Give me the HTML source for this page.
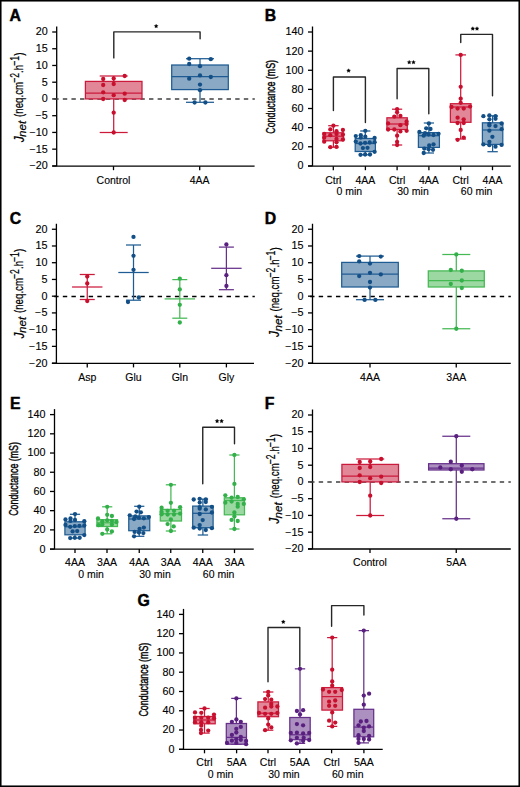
<!DOCTYPE html>
<html><head><meta charset="utf-8"><title>Figure</title>
<style>
html,body{margin:0;padding:0;background:#fff;}
svg{display:block;font-family:"Liberation Sans",sans-serif;}
</style></head><body>
<svg width="520" height="787" viewBox="0 0 520 787">
<rect x="0" y="0" width="520" height="787" fill="#fff"/>
<rect x="0.75" y="0.75" width="518.5" height="785.5" fill="none" stroke="#000" stroke-width="1.6"/>
<text x="9.5" y="20.5" font-size="15.8" font-weight="bold" stroke="#000" stroke-width="0.45">A</text>
<g transform="translate(23.1,142.5) rotate(-90)" stroke="#000" stroke-width="0.22"><g transform="translate(0.2,0.4) scale(0.85,1)"><text x="0" y="0" font-size="14" font-style="italic">J</text></g><text x="5.5" y="3.0" font-size="11.7" font-style="italic">net</text><g transform="translate(25.6,0) scale(0.77,1)"><text x="0" y="0" font-size="12.6">(neq.cm</text></g><g transform="translate(59.7,-3.8) scale(0.66,1)"><text x="0" y="0" font-size="13">−2</text></g><g transform="translate(69.6,0) scale(0.77,1)"><text x="0" y="0" font-size="12.6">.h</text></g><g transform="translate(76.7,-3.8) scale(0.66,1)"><text x="0" y="0" font-size="13">−1</text></g><g transform="translate(86.65,0) scale(0.77,1)"><text x="0" y="0" font-size="12.6">)</text></g></g>
<line x1="56.7" y1="26.5" x2="56.7" y2="165.9" stroke="#000" stroke-width="1.3"/>
<line x1="52.2" y1="32" x2="56.7" y2="32" stroke="#000" stroke-width="1.3"/>
<g transform="translate(47.7,35.4) scale(1.08,1)"><text x="0" y="0" text-anchor="end" font-size="10" stroke="#000" stroke-width="0.12">20</text></g>
<line x1="52.2" y1="48.74" x2="56.7" y2="48.74" stroke="#000" stroke-width="1.3"/>
<g transform="translate(47.7,52.14) scale(1.08,1)"><text x="0" y="0" text-anchor="end" font-size="10" stroke="#000" stroke-width="0.12">15</text></g>
<line x1="52.2" y1="65.47" x2="56.7" y2="65.47" stroke="#000" stroke-width="1.3"/>
<g transform="translate(47.7,68.88) scale(1.08,1)"><text x="0" y="0" text-anchor="end" font-size="10" stroke="#000" stroke-width="0.12">10</text></g>
<line x1="52.2" y1="82.21" x2="56.7" y2="82.21" stroke="#000" stroke-width="1.3"/>
<g transform="translate(47.7,85.61) scale(1.08,1)"><text x="0" y="0" text-anchor="end" font-size="10" stroke="#000" stroke-width="0.12">5</text></g>
<line x1="52.2" y1="98.95" x2="56.7" y2="98.95" stroke="#000" stroke-width="1.3"/>
<g transform="translate(47.7,102.35) scale(1.08,1)"><text x="0" y="0" text-anchor="end" font-size="10" stroke="#000" stroke-width="0.12">0</text></g>
<line x1="52.2" y1="115.69" x2="56.7" y2="115.69" stroke="#000" stroke-width="1.3"/>
<g transform="translate(47.7,119.09) scale(1.08,1)"><text x="0" y="0" text-anchor="end" font-size="10" stroke="#000" stroke-width="0.12">−5</text></g>
<line x1="52.2" y1="132.43" x2="56.7" y2="132.43" stroke="#000" stroke-width="1.3"/>
<g transform="translate(47.7,135.83) scale(1.08,1)"><text x="0" y="0" text-anchor="end" font-size="10" stroke="#000" stroke-width="0.12">−10</text></g>
<line x1="52.2" y1="149.16" x2="56.7" y2="149.16" stroke="#000" stroke-width="1.3"/>
<g transform="translate(47.7,152.56) scale(1.08,1)"><text x="0" y="0" text-anchor="end" font-size="10" stroke="#000" stroke-width="0.12">−15</text></g>
<line x1="52.2" y1="165.9" x2="56.7" y2="165.9" stroke="#000" stroke-width="1.3"/>
<g transform="translate(47.7,169.3) scale(1.08,1)"><text x="0" y="0" text-anchor="end" font-size="10" stroke="#000" stroke-width="0.12">−20</text></g>
<line x1="54.2" y1="99" x2="254.8" y2="99" stroke="#404040" stroke-width="1.7" stroke-dasharray="4.4 4.22"/>
<line x1="113.7" y1="76" x2="113.7" y2="81.4" stroke="#cc1a3c" stroke-width="1.25"/>
<line x1="113.7" y1="98.9" x2="113.7" y2="132.5" stroke="#cc1a3c" stroke-width="1.25"/>
<line x1="99.7" y1="76" x2="127.7" y2="76" stroke="#cc1a3c" stroke-width="1.25"/>
<line x1="99.7" y1="132.5" x2="127.7" y2="132.5" stroke="#cc1a3c" stroke-width="1.25"/>
<rect x="85.4" y="81.4" width="56.6" height="17.5" fill="#e18797" stroke="#cc1a3c" stroke-width="1.25"/>
<line x1="85.4" y1="93.1" x2="142" y2="93.1" stroke="#cc1a3c" stroke-width="1.25"/>
<circle cx="124.7" cy="76" r="2.15" fill="#c8102e"/>
<circle cx="103.2" cy="79" r="2.15" fill="#c8102e"/>
<circle cx="113.7" cy="78.5" r="2.15" fill="#c8102e"/>
<circle cx="103.2" cy="85" r="2.15" fill="#c8102e"/>
<circle cx="113.7" cy="84" r="2.15" fill="#c8102e"/>
<circle cx="103.2" cy="92.3" r="2.15" fill="#c8102e"/>
<circle cx="113.7" cy="95.2" r="2.15" fill="#c8102e"/>
<circle cx="124.7" cy="93.7" r="2.15" fill="#c8102e"/>
<circle cx="103.2" cy="99" r="2.15" fill="#c8102e"/>
<circle cx="124.7" cy="100" r="2.15" fill="#c8102e"/>
<circle cx="113.7" cy="112.7" r="2.15" fill="#c8102e"/>
<circle cx="113.7" cy="132.5" r="2.15" fill="#c8102e"/>
<line x1="200" y1="58.7" x2="200" y2="65" stroke="#1f5c93" stroke-width="1.25"/>
<line x1="200" y1="89.6" x2="200" y2="102.3" stroke="#1f5c93" stroke-width="1.25"/>
<line x1="186" y1="58.7" x2="214" y2="58.7" stroke="#1f5c93" stroke-width="1.25"/>
<line x1="186" y1="102.3" x2="214" y2="102.3" stroke="#1f5c93" stroke-width="1.25"/>
<rect x="171.7" y="65" width="56.6" height="24.6" fill="#8aa9c5" stroke="#1f5c93" stroke-width="1.25"/>
<line x1="171.7" y1="76.7" x2="228.3" y2="76.7" stroke="#1f5c93" stroke-width="1.25"/>
<circle cx="189.2" cy="58.7" r="2.15" fill="#124f86"/>
<circle cx="210.8" cy="59.2" r="2.15" fill="#124f86"/>
<circle cx="189.2" cy="64" r="2.15" fill="#124f86"/>
<circle cx="200" cy="66.2" r="2.15" fill="#124f86"/>
<circle cx="200" cy="75.4" r="2.15" fill="#124f86"/>
<circle cx="189.2" cy="78.7" r="2.15" fill="#124f86"/>
<circle cx="210.8" cy="77" r="2.15" fill="#124f86"/>
<circle cx="200" cy="84.6" r="2.15" fill="#124f86"/>
<circle cx="200" cy="90.2" r="2.15" fill="#124f86"/>
<circle cx="194.6" cy="102.5" r="2.15" fill="#124f86"/>
<circle cx="205.4" cy="102.5" r="2.15" fill="#124f86"/>
<line x1="52.2" y1="166.2" x2="254.6" y2="166.2" stroke="#000" stroke-width="1.3"/>
<line x1="113.5" y1="166.2" x2="113.5" y2="170.2" stroke="#000" stroke-width="1.3"/>
<text x="113.5" y="183.5" text-anchor="middle" font-size="10.5" stroke="#000" stroke-width="0.12" >Control</text>
<line x1="199.7" y1="166.2" x2="199.7" y2="170.2" stroke="#000" stroke-width="1.3"/>
<text x="199.7" y="183.5" text-anchor="middle" font-size="10.5" stroke="#000" stroke-width="0.12" >4AA</text>
<polyline points="113.8,57.9 113.8,31.9 200.1,31.9 200.1,38.8" fill="none" stroke="#262626" stroke-width="1.4" stroke-linejoin="round" stroke-linecap="round"/>
<polygon points="156.15,24.2 156.77,25.35 158.05,25.58 157.15,26.52 157.33,27.82 156.15,27.25 154.97,27.82 155.15,26.52 154.25,25.58 155.53,25.35" fill="#000" stroke="#000" stroke-width="0.3"/>
<text x="264.8" y="20.5" font-size="15.8" font-weight="bold" stroke="#000" stroke-width="0.45">B</text>
<g transform="translate(274.6,96.85) rotate(-90) scale(0.72,1)"><text x="0" y="0" text-anchor="middle" font-size="12.3" stroke="#000" stroke-width="0.4">Conductance (mS)</text></g>
<line x1="312.5" y1="26.5" x2="312.5" y2="165.9" stroke="#000" stroke-width="1.3"/>
<line x1="308" y1="32" x2="312.5" y2="32" stroke="#000" stroke-width="1.3"/>
<g transform="translate(303.5,35.4) scale(1.08,1)"><text x="0" y="0" text-anchor="end" font-size="10" stroke="#000" stroke-width="0.12">140</text></g>
<line x1="308" y1="51.13" x2="312.5" y2="51.13" stroke="#000" stroke-width="1.3"/>
<g transform="translate(303.5,54.53) scale(1.08,1)"><text x="0" y="0" text-anchor="end" font-size="10" stroke="#000" stroke-width="0.12">120</text></g>
<line x1="308" y1="70.26" x2="312.5" y2="70.26" stroke="#000" stroke-width="1.3"/>
<g transform="translate(303.5,73.66) scale(1.08,1)"><text x="0" y="0" text-anchor="end" font-size="10" stroke="#000" stroke-width="0.12">100</text></g>
<line x1="308" y1="89.39" x2="312.5" y2="89.39" stroke="#000" stroke-width="1.3"/>
<g transform="translate(303.5,92.79) scale(1.08,1)"><text x="0" y="0" text-anchor="end" font-size="10" stroke="#000" stroke-width="0.12">80</text></g>
<line x1="308" y1="108.51" x2="312.5" y2="108.51" stroke="#000" stroke-width="1.3"/>
<g transform="translate(303.5,111.91) scale(1.08,1)"><text x="0" y="0" text-anchor="end" font-size="10" stroke="#000" stroke-width="0.12">60</text></g>
<line x1="308" y1="127.64" x2="312.5" y2="127.64" stroke="#000" stroke-width="1.3"/>
<g transform="translate(303.5,131.04) scale(1.08,1)"><text x="0" y="0" text-anchor="end" font-size="10" stroke="#000" stroke-width="0.12">40</text></g>
<line x1="308" y1="146.77" x2="312.5" y2="146.77" stroke="#000" stroke-width="1.3"/>
<g transform="translate(303.5,150.17) scale(1.08,1)"><text x="0" y="0" text-anchor="end" font-size="10" stroke="#000" stroke-width="0.12">20</text></g>
<line x1="308" y1="165.9" x2="312.5" y2="165.9" stroke="#000" stroke-width="1.3"/>
<g transform="translate(303.5,169.3) scale(1.08,1)"><text x="0" y="0" text-anchor="end" font-size="10" stroke="#000" stroke-width="0.12">0</text></g>
<line x1="333.4" y1="125.7" x2="333.4" y2="132.8" stroke="#cc1a3c" stroke-width="1.25"/>
<line x1="333.4" y1="140.8" x2="333.4" y2="147.2" stroke="#cc1a3c" stroke-width="1.25"/>
<line x1="328.2" y1="125.7" x2="338.6" y2="125.7" stroke="#cc1a3c" stroke-width="1.25"/>
<line x1="328.2" y1="147.2" x2="338.6" y2="147.2" stroke="#cc1a3c" stroke-width="1.25"/>
<rect x="323.2" y="132.8" width="20.4" height="8" fill="#e18797" stroke="#cc1a3c" stroke-width="1.25"/>
<line x1="323.2" y1="136.2" x2="343.6" y2="136.2" stroke="#cc1a3c" stroke-width="1.25"/>
<circle cx="333.4" cy="125.7" r="2.15" fill="#c8102e"/>
<circle cx="330.3" cy="129.4" r="2.15" fill="#c8102e"/>
<circle cx="336.5" cy="131.2" r="2.15" fill="#c8102e"/>
<circle cx="342.9" cy="130" r="2.15" fill="#c8102e"/>
<circle cx="324.2" cy="134" r="2.15" fill="#c8102e"/>
<circle cx="324.2" cy="137.7" r="2.15" fill="#c8102e"/>
<circle cx="324.2" cy="141.7" r="2.15" fill="#c8102e"/>
<circle cx="330.3" cy="135.2" r="2.15" fill="#c8102e"/>
<circle cx="336.5" cy="134" r="2.15" fill="#c8102e"/>
<circle cx="336.5" cy="138.9" r="2.15" fill="#c8102e"/>
<circle cx="336.5" cy="142.3" r="2.15" fill="#c8102e"/>
<circle cx="342.9" cy="134.6" r="2.15" fill="#c8102e"/>
<circle cx="342.9" cy="139.5" r="2.15" fill="#c8102e"/>
<circle cx="330.3" cy="147.2" r="2.15" fill="#c8102e"/>
<circle cx="336.5" cy="146.9" r="2.15" fill="#c8102e"/>
<line x1="365.3" y1="131" x2="365.3" y2="138.5" stroke="#1f5c93" stroke-width="1.25"/>
<line x1="365.3" y1="151.5" x2="365.3" y2="154.8" stroke="#1f5c93" stroke-width="1.25"/>
<line x1="360.2" y1="131" x2="370.4" y2="131" stroke="#1f5c93" stroke-width="1.25"/>
<line x1="360.2" y1="154.8" x2="370.4" y2="154.8" stroke="#1f5c93" stroke-width="1.25"/>
<rect x="355.2" y="138.5" width="20.2" height="13" fill="#8aa9c5" stroke="#1f5c93" stroke-width="1.25"/>
<line x1="355.2" y1="143.5" x2="375.4" y2="143.5" stroke="#1f5c93" stroke-width="1.25"/>
<circle cx="365.3" cy="130.8" r="2.15" fill="#124f86"/>
<circle cx="355.8" cy="136.1" r="2.15" fill="#124f86"/>
<circle cx="360.8" cy="135.2" r="2.15" fill="#124f86"/>
<circle cx="360.8" cy="137.6" r="2.15" fill="#124f86"/>
<circle cx="365.3" cy="136.7" r="2.15" fill="#124f86"/>
<circle cx="374.6" cy="137.9" r="2.15" fill="#124f86"/>
<circle cx="355.8" cy="141.6" r="2.15" fill="#124f86"/>
<circle cx="360.5" cy="143.5" r="2.15" fill="#124f86"/>
<circle cx="365.1" cy="142.8" r="2.15" fill="#124f86"/>
<circle cx="369.7" cy="142.5" r="2.15" fill="#124f86"/>
<circle cx="374.6" cy="142.2" r="2.15" fill="#124f86"/>
<circle cx="362.9" cy="148.1" r="2.15" fill="#124f86"/>
<circle cx="367.5" cy="147.8" r="2.15" fill="#124f86"/>
<circle cx="374.6" cy="151.8" r="2.15" fill="#124f86"/>
<circle cx="360.5" cy="154.8" r="2.15" fill="#124f86"/>
<circle cx="365.1" cy="154.5" r="2.15" fill="#124f86"/>
<circle cx="370" cy="154.5" r="2.15" fill="#124f86"/>
<line x1="397.1" y1="109.2" x2="397.1" y2="117.8" stroke="#cc1a3c" stroke-width="1.25"/>
<line x1="397.1" y1="129.5" x2="397.1" y2="145" stroke="#cc1a3c" stroke-width="1.25"/>
<line x1="392" y1="109.2" x2="402.2" y2="109.2" stroke="#cc1a3c" stroke-width="1.25"/>
<line x1="392" y1="145" x2="402.2" y2="145" stroke="#cc1a3c" stroke-width="1.25"/>
<rect x="386.9" y="117.8" width="20.4" height="11.7" fill="#e18797" stroke="#cc1a3c" stroke-width="1.25"/>
<line x1="386.9" y1="124" x2="407.3" y2="124" stroke="#cc1a3c" stroke-width="1.25"/>
<circle cx="397.1" cy="109.2" r="2.15" fill="#c8102e"/>
<circle cx="397.1" cy="112.3" r="2.15" fill="#c8102e"/>
<circle cx="394.3" cy="116.6" r="2.15" fill="#c8102e"/>
<circle cx="400.4" cy="116" r="2.15" fill="#c8102e"/>
<circle cx="388.1" cy="123.4" r="2.15" fill="#c8102e"/>
<circle cx="400.4" cy="125.2" r="2.15" fill="#c8102e"/>
<circle cx="406.6" cy="121.5" r="2.15" fill="#c8102e"/>
<circle cx="406.6" cy="124" r="2.15" fill="#c8102e"/>
<circle cx="388.1" cy="129.5" r="2.15" fill="#c8102e"/>
<circle cx="394.3" cy="129.5" r="2.15" fill="#c8102e"/>
<circle cx="400.4" cy="131.4" r="2.15" fill="#c8102e"/>
<circle cx="406.6" cy="130.8" r="2.15" fill="#c8102e"/>
<circle cx="397.1" cy="135.7" r="2.15" fill="#c8102e"/>
<circle cx="397.1" cy="141.8" r="2.15" fill="#c8102e"/>
<circle cx="397.1" cy="145" r="2.15" fill="#c8102e"/>
<line x1="428.9" y1="123" x2="428.9" y2="132.6" stroke="#1f5c93" stroke-width="1.25"/>
<line x1="428.9" y1="147.4" x2="428.9" y2="153" stroke="#1f5c93" stroke-width="1.25"/>
<line x1="423.8" y1="123" x2="434" y2="123" stroke="#1f5c93" stroke-width="1.25"/>
<line x1="423.8" y1="153" x2="434" y2="153" stroke="#1f5c93" stroke-width="1.25"/>
<rect x="418.4" y="132.6" width="21" height="14.8" fill="#8aa9c5" stroke="#1f5c93" stroke-width="1.25"/>
<line x1="418.4" y1="135.7" x2="439.4" y2="135.7" stroke="#1f5c93" stroke-width="1.25"/>
<circle cx="428.9" cy="123.4" r="2.15" fill="#124f86"/>
<circle cx="426.2" cy="128.3" r="2.15" fill="#124f86"/>
<circle cx="430.5" cy="129" r="2.15" fill="#124f86"/>
<circle cx="419.4" cy="132" r="2.15" fill="#124f86"/>
<circle cx="423.7" cy="135.7" r="2.15" fill="#124f86"/>
<circle cx="428.6" cy="134.5" r="2.15" fill="#124f86"/>
<circle cx="433.5" cy="135" r="2.15" fill="#124f86"/>
<circle cx="438.5" cy="133.8" r="2.15" fill="#124f86"/>
<circle cx="425" cy="133.2" r="2.15" fill="#124f86"/>
<circle cx="429.2" cy="145.5" r="2.15" fill="#124f86"/>
<circle cx="433.5" cy="144.3" r="2.15" fill="#124f86"/>
<circle cx="424.3" cy="148.6" r="2.15" fill="#124f86"/>
<circle cx="428.6" cy="149.2" r="2.15" fill="#124f86"/>
<circle cx="433" cy="149.8" r="2.15" fill="#124f86"/>
<circle cx="423.7" cy="153" r="2.15" fill="#124f86"/>
<line x1="460.7" y1="54.9" x2="460.7" y2="103.7" stroke="#cc1a3c" stroke-width="1.25"/>
<line x1="460.7" y1="122.3" x2="460.7" y2="139" stroke="#cc1a3c" stroke-width="1.25"/>
<line x1="455.4" y1="54.9" x2="466" y2="54.9" stroke="#cc1a3c" stroke-width="1.25"/>
<line x1="455.4" y1="139" x2="466" y2="139" stroke="#cc1a3c" stroke-width="1.25"/>
<rect x="450.4" y="103.7" width="20.6" height="18.6" fill="#e18797" stroke="#cc1a3c" stroke-width="1.25"/>
<line x1="450.4" y1="107" x2="471" y2="107" stroke="#cc1a3c" stroke-width="1.25"/>
<circle cx="460.7" cy="54.9" r="2.15" fill="#c8102e"/>
<circle cx="460.7" cy="86.8" r="2.15" fill="#c8102e"/>
<circle cx="460.7" cy="98.7" r="2.15" fill="#c8102e"/>
<circle cx="460.7" cy="102.8" r="2.15" fill="#c8102e"/>
<circle cx="451.5" cy="107" r="2.15" fill="#c8102e"/>
<circle cx="457.6" cy="108.6" r="2.15" fill="#c8102e"/>
<circle cx="463.7" cy="108.6" r="2.15" fill="#c8102e"/>
<circle cx="470.1" cy="106.6" r="2.15" fill="#c8102e"/>
<circle cx="457.6" cy="117.7" r="2.15" fill="#c8102e"/>
<circle cx="463.7" cy="119.3" r="2.15" fill="#c8102e"/>
<circle cx="457.6" cy="123" r="2.15" fill="#c8102e"/>
<circle cx="463.7" cy="123" r="2.15" fill="#c8102e"/>
<circle cx="460.7" cy="130" r="2.15" fill="#c8102e"/>
<circle cx="457.6" cy="139.8" r="2.15" fill="#c8102e"/>
<circle cx="463.7" cy="137.6" r="2.15" fill="#c8102e"/>
<line x1="492.6" y1="115.8" x2="492.6" y2="122.8" stroke="#1f5c93" stroke-width="1.25"/>
<line x1="492.6" y1="144.4" x2="492.6" y2="151.7" stroke="#1f5c93" stroke-width="1.25"/>
<line x1="487.4" y1="115.8" x2="497.8" y2="115.8" stroke="#1f5c93" stroke-width="1.25"/>
<line x1="487.4" y1="151.7" x2="497.8" y2="151.7" stroke="#1f5c93" stroke-width="1.25"/>
<rect x="482.4" y="122.8" width="20.4" height="21.6" fill="#8aa9c5" stroke="#1f5c93" stroke-width="1.25"/>
<line x1="482.4" y1="130" x2="502.8" y2="130" stroke="#1f5c93" stroke-width="1.25"/>
<circle cx="483.4" cy="116.2" r="2.15" fill="#124f86"/>
<circle cx="489.4" cy="115.5" r="2.15" fill="#124f86"/>
<circle cx="495.5" cy="116.2" r="2.15" fill="#124f86"/>
<circle cx="489.4" cy="119.3" r="2.15" fill="#124f86"/>
<circle cx="495.5" cy="118.8" r="2.15" fill="#124f86"/>
<circle cx="489.4" cy="123.8" r="2.15" fill="#124f86"/>
<circle cx="501.6" cy="123.5" r="2.15" fill="#124f86"/>
<circle cx="489.4" cy="125.4" r="2.15" fill="#124f86"/>
<circle cx="495.5" cy="126.1" r="2.15" fill="#124f86"/>
<circle cx="489.4" cy="130.7" r="2.15" fill="#124f86"/>
<circle cx="501.6" cy="129.2" r="2.15" fill="#124f86"/>
<circle cx="492.4" cy="136.8" r="2.15" fill="#124f86"/>
<circle cx="489.4" cy="141.8" r="2.15" fill="#124f86"/>
<circle cx="483.4" cy="144.4" r="2.15" fill="#124f86"/>
<circle cx="489.4" cy="145.2" r="2.15" fill="#124f86"/>
<circle cx="495.5" cy="146.7" r="2.15" fill="#124f86"/>
<circle cx="501.6" cy="144.9" r="2.15" fill="#124f86"/>
<line x1="308" y1="166.2" x2="510.75" y2="166.2" stroke="#000" stroke-width="1.3"/>
<line x1="333.3" y1="166.2" x2="333.3" y2="170.2" stroke="#000" stroke-width="1.3"/>
<text x="333.3" y="183.5" text-anchor="middle" font-size="10.5" stroke="#000" stroke-width="0.12" >Ctrl</text>
<line x1="365.4" y1="166.2" x2="365.4" y2="170.2" stroke="#000" stroke-width="1.3"/>
<text x="365.4" y="183.5" text-anchor="middle" font-size="10.5" stroke="#000" stroke-width="0.12" >4AA</text>
<line x1="397.1" y1="166.2" x2="397.1" y2="170.2" stroke="#000" stroke-width="1.3"/>
<text x="397.1" y="183.5" text-anchor="middle" font-size="10.5" stroke="#000" stroke-width="0.12" >Ctrl</text>
<line x1="428.9" y1="166.2" x2="428.9" y2="170.2" stroke="#000" stroke-width="1.3"/>
<text x="428.9" y="183.5" text-anchor="middle" font-size="10.5" stroke="#000" stroke-width="0.12" >4AA</text>
<line x1="460.7" y1="166.2" x2="460.7" y2="170.2" stroke="#000" stroke-width="1.3"/>
<text x="460.7" y="183.5" text-anchor="middle" font-size="10.5" stroke="#000" stroke-width="0.12" >Ctrl</text>
<line x1="492.5" y1="166.2" x2="492.5" y2="170.2" stroke="#000" stroke-width="1.3"/>
<text x="492.5" y="183.5" text-anchor="middle" font-size="10.5" stroke="#000" stroke-width="0.12" >4AA</text>
<text x="349.35" y="195.1" text-anchor="middle" font-size="10.5" stroke="#000" stroke-width="0.12" >0 min</text>
<text x="413" y="195.1" text-anchor="middle" font-size="10.5" stroke="#000" stroke-width="0.12" >30 min</text>
<text x="476.6" y="195.1" text-anchor="middle" font-size="10.5" stroke="#000" stroke-width="0.12" >60 min</text>
<polyline points="333.4,110.5 333.4,77 365.4,77 365.4,122.5" fill="none" stroke="#262626" stroke-width="1.4" stroke-linejoin="round" stroke-linecap="round"/>
<polygon points="348.6,68.7 349.22,69.85 350.5,70.08 349.6,71.02 349.78,72.32 348.6,71.75 347.42,72.32 347.6,71.02 346.7,70.08 347.98,69.85" fill="#000" stroke="#000" stroke-width="0.3"/>
<polyline points="397.1,98.75 397.1,68.5 428.8,68.5 428.8,113.75" fill="none" stroke="#262626" stroke-width="1.4" stroke-linejoin="round" stroke-linecap="round"/>
<polygon points="409.2,60.3 409.82,61.45 411.1,61.68 410.2,62.62 410.38,63.92 409.2,63.35 408.02,63.92 408.2,62.62 407.3,61.68 408.58,61.45" fill="#000" stroke="#000" stroke-width="0.3"/>
<polygon points="413.5,60.3 414.12,61.45 415.4,61.68 414.5,62.62 414.68,63.92 413.5,63.35 412.32,63.92 412.5,62.62 411.6,61.68 412.88,61.45" fill="#000" stroke="#000" stroke-width="0.3"/>
<polyline points="460.75,42.5 460.75,34.4 492.5,34.4 492.5,95.75" fill="none" stroke="#262626" stroke-width="1.4" stroke-linejoin="round" stroke-linecap="round"/>
<polygon points="472.8,26.65 473.42,27.8 474.7,28.03 473.8,28.97 473.98,30.27 472.8,29.7 471.62,30.27 471.8,28.97 470.9,28.03 472.18,27.8" fill="#000" stroke="#000" stroke-width="0.3"/>
<polygon points="477,26.65 477.62,27.8 478.9,28.03 478,28.97 478.18,30.27 477,29.7 475.82,30.27 476,28.97 475.1,28.03 476.38,27.8" fill="#000" stroke="#000" stroke-width="0.3"/>
<text x="9.8" y="223.8" font-size="15.8" font-weight="bold" stroke="#000" stroke-width="0.45">C</text>
<g transform="translate(23.1,338.6) rotate(-90)" stroke="#000" stroke-width="0.22"><g transform="translate(0.2,0.4) scale(0.85,1)"><text x="0" y="0" font-size="14" font-style="italic">J</text></g><text x="5.5" y="3.0" font-size="11.7" font-style="italic">net</text><g transform="translate(25.6,0) scale(0.77,1)"><text x="0" y="0" font-size="12.6">(neq.cm</text></g><g transform="translate(59.7,-3.8) scale(0.66,1)"><text x="0" y="0" font-size="13">−2</text></g><g transform="translate(69.6,0) scale(0.77,1)"><text x="0" y="0" font-size="12.6">.h</text></g><g transform="translate(76.7,-3.8) scale(0.66,1)"><text x="0" y="0" font-size="13">−1</text></g><g transform="translate(86.65,0) scale(0.77,1)"><text x="0" y="0" font-size="12.6">)</text></g></g>
<line x1="56.4" y1="223.75" x2="56.4" y2="363.1" stroke="#000" stroke-width="1.3"/>
<line x1="51.9" y1="229.25" x2="56.4" y2="229.25" stroke="#000" stroke-width="1.3"/>
<g transform="translate(47.4,232.65) scale(1.08,1)"><text x="0" y="0" text-anchor="end" font-size="10" stroke="#000" stroke-width="0.12">20</text></g>
<line x1="51.9" y1="245.98" x2="56.4" y2="245.98" stroke="#000" stroke-width="1.3"/>
<g transform="translate(47.4,249.38) scale(1.08,1)"><text x="0" y="0" text-anchor="end" font-size="10" stroke="#000" stroke-width="0.12">15</text></g>
<line x1="51.9" y1="262.71" x2="56.4" y2="262.71" stroke="#000" stroke-width="1.3"/>
<g transform="translate(47.4,266.11) scale(1.08,1)"><text x="0" y="0" text-anchor="end" font-size="10" stroke="#000" stroke-width="0.12">10</text></g>
<line x1="51.9" y1="279.44" x2="56.4" y2="279.44" stroke="#000" stroke-width="1.3"/>
<g transform="translate(47.4,282.84) scale(1.08,1)"><text x="0" y="0" text-anchor="end" font-size="10" stroke="#000" stroke-width="0.12">5</text></g>
<line x1="51.9" y1="296.18" x2="56.4" y2="296.18" stroke="#000" stroke-width="1.3"/>
<g transform="translate(47.4,299.57) scale(1.08,1)"><text x="0" y="0" text-anchor="end" font-size="10" stroke="#000" stroke-width="0.12">0</text></g>
<line x1="51.9" y1="312.91" x2="56.4" y2="312.91" stroke="#000" stroke-width="1.3"/>
<g transform="translate(47.4,316.31) scale(1.08,1)"><text x="0" y="0" text-anchor="end" font-size="10" stroke="#000" stroke-width="0.12">−5</text></g>
<line x1="51.9" y1="329.64" x2="56.4" y2="329.64" stroke="#000" stroke-width="1.3"/>
<g transform="translate(47.4,333.04) scale(1.08,1)"><text x="0" y="0" text-anchor="end" font-size="10" stroke="#000" stroke-width="0.12">−10</text></g>
<line x1="51.9" y1="346.37" x2="56.4" y2="346.37" stroke="#000" stroke-width="1.3"/>
<g transform="translate(47.4,349.77) scale(1.08,1)"><text x="0" y="0" text-anchor="end" font-size="10" stroke="#000" stroke-width="0.12">−15</text></g>
<line x1="51.9" y1="363.1" x2="56.4" y2="363.1" stroke="#000" stroke-width="1.3"/>
<g transform="translate(47.4,366.5) scale(1.08,1)"><text x="0" y="0" text-anchor="end" font-size="10" stroke="#000" stroke-width="0.12">−20</text></g>
<line x1="54.2" y1="296.5" x2="254.8" y2="296.5" stroke="#000" stroke-width="1.3" stroke-dasharray="4.4 4.22"/>
<line x1="87.25" y1="274.5" x2="87.25" y2="299.5" stroke="#cc1a3c" stroke-width="1.25"/>
<line x1="79.75" y1="274.5" x2="94.75" y2="274.5" stroke="#cc1a3c" stroke-width="1.25"/>
<line x1="79.75" y1="299.5" x2="94.75" y2="299.5" stroke="#cc1a3c" stroke-width="1.25"/>
<line x1="72.05" y1="287" x2="102.45" y2="287" stroke="#cc1a3c" stroke-width="1.25"/>
<circle cx="87.25" cy="276.5" r="2.15" fill="#c8102e"/>
<circle cx="87.25" cy="283.5" r="2.15" fill="#c8102e"/>
<circle cx="87.25" cy="301" r="2.15" fill="#c8102e"/>
<line x1="133.5" y1="245" x2="133.5" y2="300.2" stroke="#1f5c93" stroke-width="1.25"/>
<line x1="126" y1="245" x2="141" y2="245" stroke="#1f5c93" stroke-width="1.25"/>
<line x1="126" y1="300.2" x2="141" y2="300.2" stroke="#1f5c93" stroke-width="1.25"/>
<line x1="118.3" y1="272.5" x2="148.7" y2="272.5" stroke="#1f5c93" stroke-width="1.25"/>
<circle cx="133.5" cy="236.9" r="2.15" fill="#124f86"/>
<circle cx="133.5" cy="255.8" r="2.15" fill="#124f86"/>
<circle cx="133.5" cy="269.8" r="2.15" fill="#124f86"/>
<circle cx="128" cy="302" r="2.15" fill="#124f86"/>
<circle cx="138.8" cy="297.5" r="2.15" fill="#124f86"/>
<line x1="179.8" y1="279.6" x2="179.8" y2="318.2" stroke="#45b954" stroke-width="1.25"/>
<line x1="172.3" y1="279.6" x2="187.3" y2="279.6" stroke="#45b954" stroke-width="1.25"/>
<line x1="172.3" y1="318.2" x2="187.3" y2="318.2" stroke="#45b954" stroke-width="1.25"/>
<line x1="164.6" y1="298.9" x2="195" y2="298.9" stroke="#45b954" stroke-width="1.25"/>
<circle cx="179.8" cy="278.7" r="2.15" fill="#33b04a"/>
<circle cx="179.8" cy="289.4" r="2.15" fill="#33b04a"/>
<circle cx="179.8" cy="304.8" r="2.15" fill="#33b04a"/>
<circle cx="179.8" cy="322.5" r="2.15" fill="#33b04a"/>
<line x1="226.4" y1="247.1" x2="226.4" y2="289.7" stroke="#66308a" stroke-width="1.25"/>
<line x1="218.9" y1="247.1" x2="233.9" y2="247.1" stroke="#66308a" stroke-width="1.25"/>
<line x1="218.9" y1="289.7" x2="233.9" y2="289.7" stroke="#66308a" stroke-width="1.25"/>
<line x1="211.2" y1="268.3" x2="241.6" y2="268.3" stroke="#66308a" stroke-width="1.25"/>
<circle cx="226.4" cy="244.5" r="2.15" fill="#5a2080"/>
<circle cx="226.4" cy="275.2" r="2.15" fill="#5a2080"/>
<circle cx="226.4" cy="286" r="2.15" fill="#5a2080"/>
<line x1="51.9" y1="363.4" x2="254" y2="363.4" stroke="#000" stroke-width="1.3"/>
<line x1="87.25" y1="363.4" x2="87.25" y2="367.4" stroke="#000" stroke-width="1.3"/>
<text x="87.25" y="380.7" text-anchor="middle" font-size="10.5" stroke="#000" stroke-width="0.12" >Asp</text>
<line x1="133.5" y1="363.4" x2="133.5" y2="367.4" stroke="#000" stroke-width="1.3"/>
<text x="133.5" y="380.7" text-anchor="middle" font-size="10.5" stroke="#000" stroke-width="0.12" >Glu</text>
<line x1="179.8" y1="363.4" x2="179.8" y2="367.4" stroke="#000" stroke-width="1.3"/>
<text x="179.8" y="380.7" text-anchor="middle" font-size="10.5" stroke="#000" stroke-width="0.12" >Gln</text>
<line x1="226.4" y1="363.4" x2="226.4" y2="367.4" stroke="#000" stroke-width="1.3"/>
<text x="226.4" y="380.7" text-anchor="middle" font-size="10.5" stroke="#000" stroke-width="0.12" >Gly</text>
<text x="264.8" y="223.8" font-size="15.8" font-weight="bold" stroke="#000" stroke-width="0.45">D</text>
<g transform="translate(279,337.1) rotate(-90)" stroke="#000" stroke-width="0.22"><g transform="translate(0.2,0.4) scale(0.85,1)"><text x="0" y="0" font-size="14" font-style="italic">J</text></g><text x="5.5" y="3.0" font-size="11.7" font-style="italic">net</text><g transform="translate(25.6,0) scale(0.77,1)"><text x="0" y="0" font-size="12.6">(neq.cm</text></g><g transform="translate(59.7,-3.8) scale(0.66,1)"><text x="0" y="0" font-size="13">−2</text></g><g transform="translate(69.6,0) scale(0.77,1)"><text x="0" y="0" font-size="12.6">.h</text></g><g transform="translate(76.7,-3.8) scale(0.66,1)"><text x="0" y="0" font-size="13">−1</text></g><g transform="translate(86.65,0) scale(0.77,1)"><text x="0" y="0" font-size="12.6">)</text></g></g>
<line x1="312.5" y1="223.75" x2="312.5" y2="363.1" stroke="#000" stroke-width="1.3"/>
<line x1="308" y1="229.25" x2="312.5" y2="229.25" stroke="#000" stroke-width="1.3"/>
<g transform="translate(303.5,232.65) scale(1.08,1)"><text x="0" y="0" text-anchor="end" font-size="10" stroke="#000" stroke-width="0.12">20</text></g>
<line x1="308" y1="245.98" x2="312.5" y2="245.98" stroke="#000" stroke-width="1.3"/>
<g transform="translate(303.5,249.38) scale(1.08,1)"><text x="0" y="0" text-anchor="end" font-size="10" stroke="#000" stroke-width="0.12">15</text></g>
<line x1="308" y1="262.71" x2="312.5" y2="262.71" stroke="#000" stroke-width="1.3"/>
<g transform="translate(303.5,266.11) scale(1.08,1)"><text x="0" y="0" text-anchor="end" font-size="10" stroke="#000" stroke-width="0.12">10</text></g>
<line x1="308" y1="279.44" x2="312.5" y2="279.44" stroke="#000" stroke-width="1.3"/>
<g transform="translate(303.5,282.84) scale(1.08,1)"><text x="0" y="0" text-anchor="end" font-size="10" stroke="#000" stroke-width="0.12">5</text></g>
<line x1="308" y1="296.18" x2="312.5" y2="296.18" stroke="#000" stroke-width="1.3"/>
<g transform="translate(303.5,299.57) scale(1.08,1)"><text x="0" y="0" text-anchor="end" font-size="10" stroke="#000" stroke-width="0.12">0</text></g>
<line x1="308" y1="312.91" x2="312.5" y2="312.91" stroke="#000" stroke-width="1.3"/>
<g transform="translate(303.5,316.31) scale(1.08,1)"><text x="0" y="0" text-anchor="end" font-size="10" stroke="#000" stroke-width="0.12">−5</text></g>
<line x1="308" y1="329.64" x2="312.5" y2="329.64" stroke="#000" stroke-width="1.3"/>
<g transform="translate(303.5,333.04) scale(1.08,1)"><text x="0" y="0" text-anchor="end" font-size="10" stroke="#000" stroke-width="0.12">−10</text></g>
<line x1="308" y1="346.37" x2="312.5" y2="346.37" stroke="#000" stroke-width="1.3"/>
<g transform="translate(303.5,349.77) scale(1.08,1)"><text x="0" y="0" text-anchor="end" font-size="10" stroke="#000" stroke-width="0.12">−15</text></g>
<line x1="308" y1="363.1" x2="312.5" y2="363.1" stroke="#000" stroke-width="1.3"/>
<g transform="translate(303.5,366.5) scale(1.08,1)"><text x="0" y="0" text-anchor="end" font-size="10" stroke="#000" stroke-width="0.12">−20</text></g>
<line x1="310.1" y1="296.5" x2="510.8" y2="296.5" stroke="#000" stroke-width="1.3" stroke-dasharray="4.4 4.22"/>
<line x1="370" y1="256.1" x2="370" y2="262.4" stroke="#1f5c93" stroke-width="1.25"/>
<line x1="370" y1="287" x2="370" y2="299.7" stroke="#1f5c93" stroke-width="1.25"/>
<line x1="356" y1="256.1" x2="384" y2="256.1" stroke="#1f5c93" stroke-width="1.25"/>
<line x1="356" y1="299.7" x2="384" y2="299.7" stroke="#1f5c93" stroke-width="1.25"/>
<rect x="341.7" y="262.4" width="56.6" height="24.6" fill="#8aa9c5" stroke="#1f5c93" stroke-width="1.25"/>
<line x1="341.7" y1="274.1" x2="398.3" y2="274.1" stroke="#1f5c93" stroke-width="1.25"/>
<circle cx="359.2" cy="256.1" r="2.15" fill="#124f86"/>
<circle cx="380.8" cy="256.6" r="2.15" fill="#124f86"/>
<circle cx="359.2" cy="261.4" r="2.15" fill="#124f86"/>
<circle cx="370" cy="263.6" r="2.15" fill="#124f86"/>
<circle cx="370" cy="272.8" r="2.15" fill="#124f86"/>
<circle cx="359.2" cy="276.1" r="2.15" fill="#124f86"/>
<circle cx="380.8" cy="274.4" r="2.15" fill="#124f86"/>
<circle cx="370" cy="282" r="2.15" fill="#124f86"/>
<circle cx="370" cy="287.6" r="2.15" fill="#124f86"/>
<circle cx="364.6" cy="299.9" r="2.15" fill="#124f86"/>
<circle cx="375.4" cy="299.9" r="2.15" fill="#124f86"/>
<line x1="456.3" y1="254.5" x2="456.3" y2="270.9" stroke="#45b954" stroke-width="1.25"/>
<line x1="456.3" y1="287" x2="456.3" y2="328.75" stroke="#45b954" stroke-width="1.25"/>
<line x1="442.3" y1="254.5" x2="470.3" y2="254.5" stroke="#45b954" stroke-width="1.25"/>
<line x1="442.3" y1="328.75" x2="470.3" y2="328.75" stroke="#45b954" stroke-width="1.25"/>
<rect x="428.3" y="270.9" width="56" height="16.1" fill="#9cd8a1" stroke="#45b954" stroke-width="1.25"/>
<line x1="428.3" y1="280.5" x2="484.3" y2="280.5" stroke="#45b954" stroke-width="1.25"/>
<circle cx="456.3" cy="254.5" r="2.15" fill="#33b04a"/>
<circle cx="450.8" cy="270" r="2.15" fill="#33b04a"/>
<circle cx="461.8" cy="270.75" r="2.15" fill="#33b04a"/>
<circle cx="461.8" cy="280.5" r="2.15" fill="#33b04a"/>
<circle cx="450.8" cy="284" r="2.15" fill="#33b04a"/>
<circle cx="461.8" cy="288" r="2.15" fill="#33b04a"/>
<circle cx="456.3" cy="328.75" r="2.15" fill="#33b04a"/>
<line x1="308" y1="363.4" x2="510.75" y2="363.4" stroke="#000" stroke-width="1.3"/>
<line x1="370" y1="363.4" x2="370" y2="367.4" stroke="#000" stroke-width="1.3"/>
<text x="370" y="380.7" text-anchor="middle" font-size="10.5" stroke="#000" stroke-width="0.12" >4AA</text>
<line x1="456.25" y1="363.4" x2="456.25" y2="367.4" stroke="#000" stroke-width="1.3"/>
<text x="456.25" y="380.7" text-anchor="middle" font-size="10.5" stroke="#000" stroke-width="0.12" >3AA</text>
<text x="10.1" y="408.9" font-size="15.8" font-weight="bold" stroke="#000" stroke-width="0.45">E</text>
<g transform="translate(18.3,478.95) rotate(-90) scale(0.72,1)"><text x="0" y="0" text-anchor="middle" font-size="12.3" stroke="#000" stroke-width="0.4">Conductance (mS)</text></g>
<line x1="54.5" y1="409.1" x2="54.5" y2="549.1" stroke="#000" stroke-width="1.3"/>
<line x1="50" y1="414.6" x2="54.5" y2="414.6" stroke="#000" stroke-width="1.3"/>
<g transform="translate(45.5,418) scale(1.08,1)"><text x="0" y="0" text-anchor="end" font-size="10" stroke="#000" stroke-width="0.12">140</text></g>
<line x1="50" y1="433.81" x2="54.5" y2="433.81" stroke="#000" stroke-width="1.3"/>
<g transform="translate(45.5,437.21) scale(1.08,1)"><text x="0" y="0" text-anchor="end" font-size="10" stroke="#000" stroke-width="0.12">120</text></g>
<line x1="50" y1="453.03" x2="54.5" y2="453.03" stroke="#000" stroke-width="1.3"/>
<g transform="translate(45.5,456.43) scale(1.08,1)"><text x="0" y="0" text-anchor="end" font-size="10" stroke="#000" stroke-width="0.12">100</text></g>
<line x1="50" y1="472.24" x2="54.5" y2="472.24" stroke="#000" stroke-width="1.3"/>
<g transform="translate(45.5,475.64) scale(1.08,1)"><text x="0" y="0" text-anchor="end" font-size="10" stroke="#000" stroke-width="0.12">80</text></g>
<line x1="50" y1="491.46" x2="54.5" y2="491.46" stroke="#000" stroke-width="1.3"/>
<g transform="translate(45.5,494.86) scale(1.08,1)"><text x="0" y="0" text-anchor="end" font-size="10" stroke="#000" stroke-width="0.12">60</text></g>
<line x1="50" y1="510.67" x2="54.5" y2="510.67" stroke="#000" stroke-width="1.3"/>
<g transform="translate(45.5,514.07) scale(1.08,1)"><text x="0" y="0" text-anchor="end" font-size="10" stroke="#000" stroke-width="0.12">40</text></g>
<line x1="50" y1="529.89" x2="54.5" y2="529.89" stroke="#000" stroke-width="1.3"/>
<g transform="translate(45.5,533.29) scale(1.08,1)"><text x="0" y="0" text-anchor="end" font-size="10" stroke="#000" stroke-width="0.12">20</text></g>
<line x1="50" y1="549.1" x2="54.5" y2="549.1" stroke="#000" stroke-width="1.3"/>
<g transform="translate(45.5,552.5) scale(1.08,1)"><text x="0" y="0" text-anchor="end" font-size="10" stroke="#000" stroke-width="0.12">0</text></g>
<line x1="75" y1="514.3" x2="75" y2="521.8" stroke="#1f5c93" stroke-width="1.25"/>
<line x1="75" y1="534.8" x2="75" y2="538.1" stroke="#1f5c93" stroke-width="1.25"/>
<line x1="69.9" y1="514.3" x2="80.1" y2="514.3" stroke="#1f5c93" stroke-width="1.25"/>
<line x1="69.9" y1="538.1" x2="80.1" y2="538.1" stroke="#1f5c93" stroke-width="1.25"/>
<rect x="64.9" y="521.8" width="20.2" height="13" fill="#8aa9c5" stroke="#1f5c93" stroke-width="1.25"/>
<line x1="64.9" y1="526.8" x2="85.1" y2="526.8" stroke="#1f5c93" stroke-width="1.25"/>
<circle cx="75" cy="514.1" r="2.15" fill="#124f86"/>
<circle cx="65.5" cy="519.4" r="2.15" fill="#124f86"/>
<circle cx="70.5" cy="518.5" r="2.15" fill="#124f86"/>
<circle cx="70.5" cy="520.9" r="2.15" fill="#124f86"/>
<circle cx="75" cy="520" r="2.15" fill="#124f86"/>
<circle cx="84.3" cy="521.2" r="2.15" fill="#124f86"/>
<circle cx="65.5" cy="524.9" r="2.15" fill="#124f86"/>
<circle cx="70.2" cy="526.8" r="2.15" fill="#124f86"/>
<circle cx="74.8" cy="526.1" r="2.15" fill="#124f86"/>
<circle cx="79.4" cy="525.8" r="2.15" fill="#124f86"/>
<circle cx="84.3" cy="525.5" r="2.15" fill="#124f86"/>
<circle cx="72.6" cy="531.4" r="2.15" fill="#124f86"/>
<circle cx="77.2" cy="531.1" r="2.15" fill="#124f86"/>
<circle cx="84.3" cy="535.1" r="2.15" fill="#124f86"/>
<circle cx="70.2" cy="538.1" r="2.15" fill="#124f86"/>
<circle cx="74.8" cy="537.8" r="2.15" fill="#124f86"/>
<circle cx="79.7" cy="537.8" r="2.15" fill="#124f86"/>
<line x1="107.2" y1="506.8" x2="107.2" y2="519.7" stroke="#45b954" stroke-width="1.25"/>
<line x1="107.2" y1="526.5" x2="107.2" y2="533.8" stroke="#45b954" stroke-width="1.25"/>
<line x1="102.1" y1="506.8" x2="112.3" y2="506.8" stroke="#45b954" stroke-width="1.25"/>
<line x1="102.1" y1="533.8" x2="112.3" y2="533.8" stroke="#45b954" stroke-width="1.25"/>
<rect x="96.9" y="519.7" width="20.6" height="6.8" fill="#9cd8a1" stroke="#45b954" stroke-width="1.25"/>
<line x1="96.9" y1="522.8" x2="117.5" y2="522.8" stroke="#45b954" stroke-width="1.25"/>
<circle cx="107.2" cy="506.8" r="2.15" fill="#33b04a"/>
<circle cx="107.2" cy="514.8" r="2.15" fill="#33b04a"/>
<circle cx="111.9" cy="516" r="2.15" fill="#33b04a"/>
<circle cx="98" cy="518.5" r="2.15" fill="#33b04a"/>
<circle cx="102.3" cy="521.5" r="2.15" fill="#33b04a"/>
<circle cx="107.2" cy="520.3" r="2.15" fill="#33b04a"/>
<circle cx="111.9" cy="521" r="2.15" fill="#33b04a"/>
<circle cx="116.5" cy="522" r="2.15" fill="#33b04a"/>
<circle cx="98.6" cy="525.2" r="2.15" fill="#33b04a"/>
<circle cx="102.3" cy="524.6" r="2.15" fill="#33b04a"/>
<circle cx="111.9" cy="524.6" r="2.15" fill="#33b04a"/>
<circle cx="107.2" cy="529.5" r="2.15" fill="#33b04a"/>
<circle cx="111.9" cy="531.4" r="2.15" fill="#33b04a"/>
<circle cx="102.3" cy="533.8" r="2.15" fill="#33b04a"/>
<line x1="139.25" y1="506.3" x2="139.25" y2="515.9" stroke="#1f5c93" stroke-width="1.25"/>
<line x1="139.25" y1="530.7" x2="139.25" y2="536.3" stroke="#1f5c93" stroke-width="1.25"/>
<line x1="134.15" y1="506.3" x2="144.35" y2="506.3" stroke="#1f5c93" stroke-width="1.25"/>
<line x1="134.15" y1="536.3" x2="144.35" y2="536.3" stroke="#1f5c93" stroke-width="1.25"/>
<rect x="128.75" y="515.9" width="21" height="14.8" fill="#8aa9c5" stroke="#1f5c93" stroke-width="1.25"/>
<line x1="128.75" y1="519" x2="149.75" y2="519" stroke="#1f5c93" stroke-width="1.25"/>
<circle cx="139.25" cy="506.7" r="2.15" fill="#124f86"/>
<circle cx="136.55" cy="511.6" r="2.15" fill="#124f86"/>
<circle cx="140.85" cy="512.3" r="2.15" fill="#124f86"/>
<circle cx="129.75" cy="515.3" r="2.15" fill="#124f86"/>
<circle cx="134.05" cy="519" r="2.15" fill="#124f86"/>
<circle cx="138.95" cy="517.8" r="2.15" fill="#124f86"/>
<circle cx="143.85" cy="518.3" r="2.15" fill="#124f86"/>
<circle cx="148.85" cy="517.1" r="2.15" fill="#124f86"/>
<circle cx="135.35" cy="516.5" r="2.15" fill="#124f86"/>
<circle cx="139.55" cy="528.8" r="2.15" fill="#124f86"/>
<circle cx="143.85" cy="527.6" r="2.15" fill="#124f86"/>
<circle cx="134.65" cy="531.9" r="2.15" fill="#124f86"/>
<circle cx="138.95" cy="532.5" r="2.15" fill="#124f86"/>
<circle cx="143.35" cy="533.1" r="2.15" fill="#124f86"/>
<circle cx="134.05" cy="536.3" r="2.15" fill="#124f86"/>
<line x1="170.9" y1="484.8" x2="170.9" y2="509.4" stroke="#45b954" stroke-width="1.25"/>
<line x1="170.9" y1="521" x2="170.9" y2="531" stroke="#45b954" stroke-width="1.25"/>
<line x1="165.8" y1="484.8" x2="176" y2="484.8" stroke="#45b954" stroke-width="1.25"/>
<line x1="165.8" y1="531" x2="176" y2="531" stroke="#45b954" stroke-width="1.25"/>
<rect x="160.3" y="509.4" width="21.2" height="11.6" fill="#9cd8a1" stroke="#45b954" stroke-width="1.25"/>
<line x1="160.3" y1="513.7" x2="181.5" y2="513.7" stroke="#45b954" stroke-width="1.25"/>
<circle cx="170.9" cy="484.8" r="2.15" fill="#33b04a"/>
<circle cx="170.9" cy="502.8" r="2.15" fill="#33b04a"/>
<circle cx="161.6" cy="507.7" r="2.15" fill="#33b04a"/>
<circle cx="167.6" cy="510.8" r="2.15" fill="#33b04a"/>
<circle cx="174" cy="510.8" r="2.15" fill="#33b04a"/>
<circle cx="180.1" cy="507.2" r="2.15" fill="#33b04a"/>
<circle cx="161.6" cy="512" r="2.15" fill="#33b04a"/>
<circle cx="161.6" cy="514.3" r="2.15" fill="#33b04a"/>
<circle cx="167.6" cy="514.6" r="2.15" fill="#33b04a"/>
<circle cx="174" cy="514.6" r="2.15" fill="#33b04a"/>
<circle cx="180.1" cy="513.7" r="2.15" fill="#33b04a"/>
<circle cx="170.9" cy="519.4" r="2.15" fill="#33b04a"/>
<circle cx="167.6" cy="524.1" r="2.15" fill="#33b04a"/>
<circle cx="173.7" cy="526.4" r="2.15" fill="#33b04a"/>
<circle cx="170.9" cy="531" r="2.15" fill="#33b04a"/>
<line x1="202.9" y1="499.1" x2="202.9" y2="506.1" stroke="#1f5c93" stroke-width="1.25"/>
<line x1="202.9" y1="527.7" x2="202.9" y2="535" stroke="#1f5c93" stroke-width="1.25"/>
<line x1="197.7" y1="499.1" x2="208.1" y2="499.1" stroke="#1f5c93" stroke-width="1.25"/>
<line x1="197.7" y1="535" x2="208.1" y2="535" stroke="#1f5c93" stroke-width="1.25"/>
<rect x="192.7" y="506.1" width="20.4" height="21.6" fill="#8aa9c5" stroke="#1f5c93" stroke-width="1.25"/>
<line x1="192.7" y1="513.3" x2="213.1" y2="513.3" stroke="#1f5c93" stroke-width="1.25"/>
<circle cx="193.7" cy="499.5" r="2.15" fill="#124f86"/>
<circle cx="199.7" cy="498.8" r="2.15" fill="#124f86"/>
<circle cx="205.8" cy="499.5" r="2.15" fill="#124f86"/>
<circle cx="199.7" cy="502.6" r="2.15" fill="#124f86"/>
<circle cx="205.8" cy="502.1" r="2.15" fill="#124f86"/>
<circle cx="199.7" cy="507.1" r="2.15" fill="#124f86"/>
<circle cx="211.9" cy="506.8" r="2.15" fill="#124f86"/>
<circle cx="199.7" cy="508.7" r="2.15" fill="#124f86"/>
<circle cx="205.8" cy="509.4" r="2.15" fill="#124f86"/>
<circle cx="199.7" cy="514" r="2.15" fill="#124f86"/>
<circle cx="211.9" cy="512.5" r="2.15" fill="#124f86"/>
<circle cx="202.7" cy="520.1" r="2.15" fill="#124f86"/>
<circle cx="199.7" cy="525.1" r="2.15" fill="#124f86"/>
<circle cx="193.7" cy="527.7" r="2.15" fill="#124f86"/>
<circle cx="199.7" cy="528.5" r="2.15" fill="#124f86"/>
<circle cx="205.8" cy="530" r="2.15" fill="#124f86"/>
<circle cx="211.9" cy="528.2" r="2.15" fill="#124f86"/>
<line x1="234.4" y1="455" x2="234.4" y2="497.8" stroke="#45b954" stroke-width="1.25"/>
<line x1="234.4" y1="514.8" x2="234.4" y2="529" stroke="#45b954" stroke-width="1.25"/>
<line x1="229.3" y1="455" x2="239.5" y2="455" stroke="#45b954" stroke-width="1.25"/>
<line x1="229.3" y1="529" x2="239.5" y2="529" stroke="#45b954" stroke-width="1.25"/>
<rect x="224.3" y="497.8" width="20.2" height="17" fill="#9cd8a1" stroke="#45b954" stroke-width="1.25"/>
<line x1="224.3" y1="500.5" x2="244.5" y2="500.5" stroke="#45b954" stroke-width="1.25"/>
<circle cx="234.4" cy="455" r="2.15" fill="#33b04a"/>
<circle cx="234.4" cy="483.9" r="2.15" fill="#33b04a"/>
<circle cx="225.3" cy="495.3" r="2.15" fill="#33b04a"/>
<circle cx="231.6" cy="497.6" r="2.15" fill="#33b04a"/>
<circle cx="237.7" cy="497" r="2.15" fill="#33b04a"/>
<circle cx="243.8" cy="499.3" r="2.15" fill="#33b04a"/>
<circle cx="225.3" cy="502.7" r="2.15" fill="#33b04a"/>
<circle cx="231.6" cy="501.6" r="2.15" fill="#33b04a"/>
<circle cx="237.7" cy="503.9" r="2.15" fill="#33b04a"/>
<circle cx="243.8" cy="503.9" r="2.15" fill="#33b04a"/>
<circle cx="237.7" cy="506.7" r="2.15" fill="#33b04a"/>
<circle cx="234.4" cy="512.5" r="2.15" fill="#33b04a"/>
<circle cx="234.4" cy="516.5" r="2.15" fill="#33b04a"/>
<circle cx="231.6" cy="519.9" r="2.15" fill="#33b04a"/>
<circle cx="237.7" cy="521" r="2.15" fill="#33b04a"/>
<circle cx="234.4" cy="529" r="2.15" fill="#33b04a"/>
<line x1="50" y1="549.1" x2="253.75" y2="549.1" stroke="#000" stroke-width="1.3"/>
<line x1="75" y1="549.1" x2="75" y2="553.1" stroke="#000" stroke-width="1.3"/>
<text x="75" y="566.4" text-anchor="middle" font-size="10.5" stroke="#000" stroke-width="0.12" >4AA</text>
<line x1="107" y1="549.1" x2="107" y2="553.1" stroke="#000" stroke-width="1.3"/>
<text x="107" y="566.4" text-anchor="middle" font-size="10.5" stroke="#000" stroke-width="0.12" >3AA</text>
<line x1="139.25" y1="549.1" x2="139.25" y2="553.1" stroke="#000" stroke-width="1.3"/>
<text x="139.25" y="566.4" text-anchor="middle" font-size="10.5" stroke="#000" stroke-width="0.12" >4AA</text>
<line x1="170.75" y1="549.1" x2="170.75" y2="553.1" stroke="#000" stroke-width="1.3"/>
<text x="170.75" y="566.4" text-anchor="middle" font-size="10.5" stroke="#000" stroke-width="0.12" >3AA</text>
<line x1="202.75" y1="549.1" x2="202.75" y2="553.1" stroke="#000" stroke-width="1.3"/>
<text x="202.75" y="566.4" text-anchor="middle" font-size="10.5" stroke="#000" stroke-width="0.12" >4AA</text>
<line x1="234.5" y1="549.1" x2="234.5" y2="553.1" stroke="#000" stroke-width="1.3"/>
<text x="234.5" y="566.4" text-anchor="middle" font-size="10.5" stroke="#000" stroke-width="0.12" >3AA</text>
<text x="91" y="578" text-anchor="middle" font-size="10.5" stroke="#000" stroke-width="0.12" >0 min</text>
<text x="155" y="578" text-anchor="middle" font-size="10.5" stroke="#000" stroke-width="0.12" >30 min</text>
<text x="218.62" y="578" text-anchor="middle" font-size="10.5" stroke="#000" stroke-width="0.12" >60 min</text>
<polyline points="202.75,483.75 202.75,427.3 234.5,427.3 234.5,443.75" fill="none" stroke="#262626" stroke-width="1.4" stroke-linejoin="round" stroke-linecap="round"/>
<polygon points="217.1,419.1 217.72,420.25 219,420.48 218.1,421.42 218.28,422.72 217.1,422.15 215.92,422.72 216.1,421.42 215.2,420.48 216.48,420.25" fill="#000" stroke="#000" stroke-width="0.3"/>
<polygon points="221.6,419.1 222.22,420.25 223.5,420.48 222.6,421.42 222.78,422.72 221.6,422.15 220.42,422.72 220.6,421.42 219.7,420.48 220.98,420.25" fill="#000" stroke="#000" stroke-width="0.3"/>
<text x="264.8" y="408.9" font-size="15.8" font-weight="bold" stroke="#000" stroke-width="0.45">F</text>
<g transform="translate(279,523.9) rotate(-90)" stroke="#000" stroke-width="0.22"><g transform="translate(0.2,0.4) scale(0.85,1)"><text x="0" y="0" font-size="14" font-style="italic">J</text></g><text x="5.5" y="3.0" font-size="11.7" font-style="italic">net</text><g transform="translate(25.6,0) scale(0.77,1)"><text x="0" y="0" font-size="12.6">(neq.cm</text></g><g transform="translate(59.7,-3.8) scale(0.66,1)"><text x="0" y="0" font-size="13">−2</text></g><g transform="translate(69.6,0) scale(0.77,1)"><text x="0" y="0" font-size="12.6">.h</text></g><g transform="translate(76.7,-3.8) scale(0.66,1)"><text x="0" y="0" font-size="13">−1</text></g><g transform="translate(86.65,0) scale(0.77,1)"><text x="0" y="0" font-size="12.6">)</text></g></g>
<line x1="312.5" y1="409.5" x2="312.5" y2="548.9" stroke="#000" stroke-width="1.3"/>
<line x1="308" y1="415" x2="312.5" y2="415" stroke="#000" stroke-width="1.3"/>
<g transform="translate(303.5,418.4) scale(1.08,1)"><text x="0" y="0" text-anchor="end" font-size="10" stroke="#000" stroke-width="0.12">20</text></g>
<line x1="308" y1="431.74" x2="312.5" y2="431.74" stroke="#000" stroke-width="1.3"/>
<g transform="translate(303.5,435.14) scale(1.08,1)"><text x="0" y="0" text-anchor="end" font-size="10" stroke="#000" stroke-width="0.12">15</text></g>
<line x1="308" y1="448.48" x2="312.5" y2="448.48" stroke="#000" stroke-width="1.3"/>
<g transform="translate(303.5,451.88) scale(1.08,1)"><text x="0" y="0" text-anchor="end" font-size="10" stroke="#000" stroke-width="0.12">10</text></g>
<line x1="308" y1="465.21" x2="312.5" y2="465.21" stroke="#000" stroke-width="1.3"/>
<g transform="translate(303.5,468.61) scale(1.08,1)"><text x="0" y="0" text-anchor="end" font-size="10" stroke="#000" stroke-width="0.12">5</text></g>
<line x1="308" y1="481.95" x2="312.5" y2="481.95" stroke="#000" stroke-width="1.3"/>
<g transform="translate(303.5,485.35) scale(1.08,1)"><text x="0" y="0" text-anchor="end" font-size="10" stroke="#000" stroke-width="0.12">0</text></g>
<line x1="308" y1="498.69" x2="312.5" y2="498.69" stroke="#000" stroke-width="1.3"/>
<g transform="translate(303.5,502.09) scale(1.08,1)"><text x="0" y="0" text-anchor="end" font-size="10" stroke="#000" stroke-width="0.12">−5</text></g>
<line x1="308" y1="515.42" x2="312.5" y2="515.42" stroke="#000" stroke-width="1.3"/>
<g transform="translate(303.5,518.82) scale(1.08,1)"><text x="0" y="0" text-anchor="end" font-size="10" stroke="#000" stroke-width="0.12">−10</text></g>
<line x1="308" y1="532.16" x2="312.5" y2="532.16" stroke="#000" stroke-width="1.3"/>
<g transform="translate(303.5,535.56) scale(1.08,1)"><text x="0" y="0" text-anchor="end" font-size="10" stroke="#000" stroke-width="0.12">−15</text></g>
<line x1="308" y1="548.9" x2="312.5" y2="548.9" stroke="#000" stroke-width="1.3"/>
<g transform="translate(303.5,552.3) scale(1.08,1)"><text x="0" y="0" text-anchor="end" font-size="10" stroke="#000" stroke-width="0.12">−20</text></g>
<line x1="310.1" y1="482" x2="510.8" y2="482" stroke="#404040" stroke-width="1.7" stroke-dasharray="4.4 4.22"/>
<line x1="370.2" y1="459" x2="370.2" y2="464.4" stroke="#cc1a3c" stroke-width="1.25"/>
<line x1="370.2" y1="481.9" x2="370.2" y2="515.5" stroke="#cc1a3c" stroke-width="1.25"/>
<line x1="356.2" y1="459" x2="384.2" y2="459" stroke="#cc1a3c" stroke-width="1.25"/>
<line x1="356.2" y1="515.5" x2="384.2" y2="515.5" stroke="#cc1a3c" stroke-width="1.25"/>
<rect x="341.9" y="464.4" width="56.6" height="17.5" fill="#e18797" stroke="#cc1a3c" stroke-width="1.25"/>
<line x1="341.9" y1="476.1" x2="398.5" y2="476.1" stroke="#cc1a3c" stroke-width="1.25"/>
<circle cx="381.2" cy="459" r="2.15" fill="#c8102e"/>
<circle cx="359.7" cy="462" r="2.15" fill="#c8102e"/>
<circle cx="370.2" cy="461.5" r="2.15" fill="#c8102e"/>
<circle cx="359.7" cy="468" r="2.15" fill="#c8102e"/>
<circle cx="370.2" cy="467" r="2.15" fill="#c8102e"/>
<circle cx="359.7" cy="475.3" r="2.15" fill="#c8102e"/>
<circle cx="370.2" cy="478.2" r="2.15" fill="#c8102e"/>
<circle cx="381.2" cy="476.7" r="2.15" fill="#c8102e"/>
<circle cx="359.7" cy="482" r="2.15" fill="#c8102e"/>
<circle cx="381.2" cy="483" r="2.15" fill="#c8102e"/>
<circle cx="370.2" cy="495.7" r="2.15" fill="#c8102e"/>
<circle cx="370.2" cy="515.5" r="2.15" fill="#c8102e"/>
<line x1="456.3" y1="436.25" x2="456.3" y2="463.7" stroke="#66308a" stroke-width="1.25"/>
<line x1="456.3" y1="470" x2="456.3" y2="518.75" stroke="#66308a" stroke-width="1.25"/>
<line x1="442.3" y1="436.25" x2="470.3" y2="436.25" stroke="#66308a" stroke-width="1.25"/>
<line x1="442.3" y1="518.75" x2="470.3" y2="518.75" stroke="#66308a" stroke-width="1.25"/>
<rect x="428.6" y="463.7" width="55.4" height="6.3" fill="#ac90c0" stroke="#66308a" stroke-width="1.25"/>
<line x1="428.6" y1="468.2" x2="484" y2="468.2" stroke="#66308a" stroke-width="1.25"/>
<circle cx="450.8" cy="461.75" r="2.15" fill="#5a2080"/>
<circle cx="440.3" cy="467.5" r="2.15" fill="#5a2080"/>
<circle cx="450.8" cy="469.25" r="2.15" fill="#5a2080"/>
<circle cx="461.8" cy="465.5" r="2.15" fill="#5a2080"/>
<circle cx="461.8" cy="471.75" r="2.15" fill="#5a2080"/>
<circle cx="472.3" cy="469.25" r="2.15" fill="#5a2080"/>
<circle cx="456.3" cy="436.25" r="2.15" fill="#5a2080"/>
<circle cx="456.3" cy="518.75" r="2.15" fill="#5a2080"/>
<line x1="308" y1="549" x2="510.75" y2="549" stroke="#000" stroke-width="1.3"/>
<line x1="370" y1="549" x2="370" y2="553" stroke="#000" stroke-width="1.3"/>
<text x="370" y="566.3" text-anchor="middle" font-size="10.5" stroke="#000" stroke-width="0.12" >Control</text>
<line x1="456.25" y1="549" x2="456.25" y2="553" stroke="#000" stroke-width="1.3"/>
<text x="456.25" y="566.3" text-anchor="middle" font-size="10.5" stroke="#000" stroke-width="0.12" >5AA</text>
<text x="137.5" y="605.6" font-size="15.8" font-weight="bold" stroke="#000" stroke-width="0.45">G</text>
<g transform="translate(147.6,679.65) rotate(-90) scale(0.72,1)"><text x="0" y="0" text-anchor="middle" font-size="12.3" stroke="#000" stroke-width="0.4">Conductance (mS)</text></g>
<line x1="183.5" y1="608.9" x2="183.5" y2="749.3" stroke="#000" stroke-width="1.3"/>
<line x1="179" y1="614.4" x2="183.5" y2="614.4" stroke="#000" stroke-width="1.3"/>
<g transform="translate(174.5,617.8) scale(1.08,1)"><text x="0" y="0" text-anchor="end" font-size="10" stroke="#000" stroke-width="0.12">140</text></g>
<line x1="179" y1="633.67" x2="183.5" y2="633.67" stroke="#000" stroke-width="1.3"/>
<g transform="translate(174.5,637.07) scale(1.08,1)"><text x="0" y="0" text-anchor="end" font-size="10" stroke="#000" stroke-width="0.12">120</text></g>
<line x1="179" y1="652.94" x2="183.5" y2="652.94" stroke="#000" stroke-width="1.3"/>
<g transform="translate(174.5,656.34) scale(1.08,1)"><text x="0" y="0" text-anchor="end" font-size="10" stroke="#000" stroke-width="0.12">100</text></g>
<line x1="179" y1="672.21" x2="183.5" y2="672.21" stroke="#000" stroke-width="1.3"/>
<g transform="translate(174.5,675.61) scale(1.08,1)"><text x="0" y="0" text-anchor="end" font-size="10" stroke="#000" stroke-width="0.12">80</text></g>
<line x1="179" y1="691.49" x2="183.5" y2="691.49" stroke="#000" stroke-width="1.3"/>
<g transform="translate(174.5,694.89) scale(1.08,1)"><text x="0" y="0" text-anchor="end" font-size="10" stroke="#000" stroke-width="0.12">60</text></g>
<line x1="179" y1="710.76" x2="183.5" y2="710.76" stroke="#000" stroke-width="1.3"/>
<g transform="translate(174.5,714.16) scale(1.08,1)"><text x="0" y="0" text-anchor="end" font-size="10" stroke="#000" stroke-width="0.12">40</text></g>
<line x1="179" y1="730.03" x2="183.5" y2="730.03" stroke="#000" stroke-width="1.3"/>
<g transform="translate(174.5,733.43) scale(1.08,1)"><text x="0" y="0" text-anchor="end" font-size="10" stroke="#000" stroke-width="0.12">20</text></g>
<line x1="179" y1="749.3" x2="183.5" y2="749.3" stroke="#000" stroke-width="1.3"/>
<g transform="translate(174.5,752.7) scale(1.08,1)"><text x="0" y="0" text-anchor="end" font-size="10" stroke="#000" stroke-width="0.12">0</text></g>
<line x1="204.5" y1="708.5" x2="204.5" y2="716.5" stroke="#cc1a3c" stroke-width="1.25"/>
<line x1="204.5" y1="723.8" x2="204.5" y2="733.1" stroke="#cc1a3c" stroke-width="1.25"/>
<line x1="199.3" y1="708.5" x2="209.7" y2="708.5" stroke="#cc1a3c" stroke-width="1.25"/>
<line x1="199.3" y1="733.1" x2="209.7" y2="733.1" stroke="#cc1a3c" stroke-width="1.25"/>
<rect x="193.8" y="716.5" width="21.4" height="7.3" fill="#e18797" stroke="#cc1a3c" stroke-width="1.25"/>
<line x1="193.8" y1="720" x2="215.2" y2="720" stroke="#cc1a3c" stroke-width="1.25"/>
<circle cx="204.5" cy="708.5" r="2.15" fill="#c8102e"/>
<circle cx="195" cy="712.4" r="2.15" fill="#c8102e"/>
<circle cx="201.3" cy="712.8" r="2.15" fill="#c8102e"/>
<circle cx="214" cy="714.6" r="2.15" fill="#c8102e"/>
<circle cx="195" cy="717.7" r="2.15" fill="#c8102e"/>
<circle cx="201.3" cy="717.7" r="2.15" fill="#c8102e"/>
<circle cx="208.2" cy="717.7" r="2.15" fill="#c8102e"/>
<circle cx="214" cy="718.3" r="2.15" fill="#c8102e"/>
<circle cx="195" cy="722.2" r="2.15" fill="#c8102e"/>
<circle cx="201.3" cy="722.2" r="2.15" fill="#c8102e"/>
<circle cx="208.2" cy="722.2" r="2.15" fill="#c8102e"/>
<circle cx="201.3" cy="725.7" r="2.15" fill="#c8102e"/>
<circle cx="201" cy="730" r="2.15" fill="#c8102e"/>
<circle cx="208.2" cy="730.6" r="2.15" fill="#c8102e"/>
<circle cx="201" cy="733.1" r="2.15" fill="#c8102e"/>
<line x1="236.4" y1="698.4" x2="236.4" y2="723.5" stroke="#66308a" stroke-width="1.25"/>
<line x1="236.4" y1="744.2" x2="236.4" y2="744.2" stroke="#66308a" stroke-width="1.25"/>
<line x1="231.2" y1="698.4" x2="241.6" y2="698.4" stroke="#66308a" stroke-width="1.25"/>
<line x1="231.2" y1="744.2" x2="241.6" y2="744.2" stroke="#66308a" stroke-width="1.25"/>
<rect x="226.3" y="723.5" width="20.2" height="20.7" fill="#ac90c0" stroke="#66308a" stroke-width="1.25"/>
<line x1="226.3" y1="737.4" x2="246.5" y2="737.4" stroke="#66308a" stroke-width="1.25"/>
<circle cx="236.4" cy="698.4" r="2.15" fill="#5a2080"/>
<circle cx="236.4" cy="719.5" r="2.15" fill="#5a2080"/>
<circle cx="231.9" cy="721.8" r="2.15" fill="#5a2080"/>
<circle cx="240.8" cy="721.8" r="2.15" fill="#5a2080"/>
<circle cx="240.8" cy="726.9" r="2.15" fill="#5a2080"/>
<circle cx="236.3" cy="728.8" r="2.15" fill="#5a2080"/>
<circle cx="236.3" cy="732.5" r="2.15" fill="#5a2080"/>
<circle cx="231.9" cy="734.9" r="2.15" fill="#5a2080"/>
<circle cx="240.8" cy="736.8" r="2.15" fill="#5a2080"/>
<circle cx="227" cy="742.9" r="2.15" fill="#5a2080"/>
<circle cx="231.9" cy="740.7" r="2.15" fill="#5a2080"/>
<circle cx="236.3" cy="739.2" r="2.15" fill="#5a2080"/>
<circle cx="236.3" cy="742.9" r="2.15" fill="#5a2080"/>
<circle cx="240.8" cy="739.8" r="2.15" fill="#5a2080"/>
<circle cx="246.1" cy="741" r="2.15" fill="#5a2080"/>
<circle cx="246.1" cy="744.2" r="2.15" fill="#5a2080"/>
<line x1="268.2" y1="692" x2="268.2" y2="701.9" stroke="#cc1a3c" stroke-width="1.25"/>
<line x1="268.2" y1="716.7" x2="268.2" y2="730.2" stroke="#cc1a3c" stroke-width="1.25"/>
<line x1="263" y1="692" x2="273.4" y2="692" stroke="#cc1a3c" stroke-width="1.25"/>
<line x1="263" y1="730.2" x2="273.4" y2="730.2" stroke="#cc1a3c" stroke-width="1.25"/>
<rect x="257.9" y="701.9" width="20.6" height="14.8" fill="#e18797" stroke="#cc1a3c" stroke-width="1.25"/>
<line x1="257.9" y1="713.2" x2="278.5" y2="713.2" stroke="#cc1a3c" stroke-width="1.25"/>
<circle cx="268.2" cy="692" r="2.15" fill="#c8102e"/>
<circle cx="268.2" cy="695.4" r="2.15" fill="#c8102e"/>
<circle cx="265.1" cy="699.1" r="2.15" fill="#c8102e"/>
<circle cx="271.3" cy="699.7" r="2.15" fill="#c8102e"/>
<circle cx="271.3" cy="704" r="2.15" fill="#c8102e"/>
<circle cx="277.4" cy="706.5" r="2.15" fill="#c8102e"/>
<circle cx="265.1" cy="707.7" r="2.15" fill="#c8102e"/>
<circle cx="271.3" cy="706.5" r="2.15" fill="#c8102e"/>
<circle cx="259" cy="713" r="2.15" fill="#c8102e"/>
<circle cx="265.1" cy="713.8" r="2.15" fill="#c8102e"/>
<circle cx="271.3" cy="713.8" r="2.15" fill="#c8102e"/>
<circle cx="277.4" cy="713" r="2.15" fill="#c8102e"/>
<circle cx="268.2" cy="718.4" r="2.15" fill="#c8102e"/>
<circle cx="268.2" cy="724.6" r="2.15" fill="#c8102e"/>
<circle cx="271.3" cy="727.4" r="2.15" fill="#c8102e"/>
<circle cx="265.1" cy="730.2" r="2.15" fill="#c8102e"/>
<line x1="300" y1="668.85" x2="300" y2="717.5" stroke="#66308a" stroke-width="1.25"/>
<line x1="300" y1="739.7" x2="300" y2="743.4" stroke="#66308a" stroke-width="1.25"/>
<line x1="294.8" y1="668.85" x2="305.2" y2="668.85" stroke="#66308a" stroke-width="1.25"/>
<line x1="294.8" y1="743.4" x2="305.2" y2="743.4" stroke="#66308a" stroke-width="1.25"/>
<rect x="289.8" y="717.5" width="20.4" height="22.2" fill="#ac90c0" stroke="#66308a" stroke-width="1.25"/>
<line x1="289.8" y1="734.8" x2="310.2" y2="734.8" stroke="#66308a" stroke-width="1.25"/>
<circle cx="300" cy="668.85" r="2.15" fill="#5a2080"/>
<circle cx="296.9" cy="711" r="2.15" fill="#5a2080"/>
<circle cx="303.1" cy="710.2" r="2.15" fill="#5a2080"/>
<circle cx="300" cy="714.5" r="2.15" fill="#5a2080"/>
<circle cx="296.9" cy="724.1" r="2.15" fill="#5a2080"/>
<circle cx="303.1" cy="725.3" r="2.15" fill="#5a2080"/>
<circle cx="290.8" cy="732.9" r="2.15" fill="#5a2080"/>
<circle cx="296.9" cy="732.7" r="2.15" fill="#5a2080"/>
<circle cx="303.1" cy="733.5" r="2.15" fill="#5a2080"/>
<circle cx="309.2" cy="732.9" r="2.15" fill="#5a2080"/>
<circle cx="296.9" cy="737.8" r="2.15" fill="#5a2080"/>
<circle cx="303.7" cy="737.8" r="2.15" fill="#5a2080"/>
<circle cx="290.8" cy="740.3" r="2.15" fill="#5a2080"/>
<circle cx="309.2" cy="740" r="2.15" fill="#5a2080"/>
<circle cx="296.9" cy="743.4" r="2.15" fill="#5a2080"/>
<circle cx="303.1" cy="741" r="2.15" fill="#5a2080"/>
<line x1="332.2" y1="637.6" x2="332.2" y2="687.6" stroke="#cc1a3c" stroke-width="1.25"/>
<line x1="332.2" y1="710.1" x2="332.2" y2="726.4" stroke="#cc1a3c" stroke-width="1.25"/>
<line x1="327.1" y1="637.6" x2="337.3" y2="637.6" stroke="#cc1a3c" stroke-width="1.25"/>
<line x1="327.1" y1="726.4" x2="337.3" y2="726.4" stroke="#cc1a3c" stroke-width="1.25"/>
<rect x="321.9" y="687.6" width="20.6" height="22.5" fill="#e18797" stroke="#cc1a3c" stroke-width="1.25"/>
<line x1="321.9" y1="696.6" x2="342.5" y2="696.6" stroke="#cc1a3c" stroke-width="1.25"/>
<circle cx="332.2" cy="637.6" r="2.15" fill="#c8102e"/>
<circle cx="332.2" cy="669.7" r="2.15" fill="#c8102e"/>
<circle cx="332.2" cy="681.5" r="2.15" fill="#c8102e"/>
<circle cx="332.2" cy="685.7" r="2.15" fill="#c8102e"/>
<circle cx="323" cy="689.5" r="2.15" fill="#c8102e"/>
<circle cx="329.1" cy="691.8" r="2.15" fill="#c8102e"/>
<circle cx="335.2" cy="691.8" r="2.15" fill="#c8102e"/>
<circle cx="341.8" cy="690" r="2.15" fill="#c8102e"/>
<circle cx="329.1" cy="701.7" r="2.15" fill="#c8102e"/>
<circle cx="335.2" cy="700.5" r="2.15" fill="#c8102e"/>
<circle cx="329.1" cy="705.8" r="2.15" fill="#c8102e"/>
<circle cx="335.2" cy="705.8" r="2.15" fill="#c8102e"/>
<circle cx="332.2" cy="712.4" r="2.15" fill="#c8102e"/>
<circle cx="329.1" cy="720.7" r="2.15" fill="#c8102e"/>
<circle cx="335.2" cy="722.6" r="2.15" fill="#c8102e"/>
<circle cx="332.2" cy="726.4" r="2.15" fill="#c8102e"/>
<line x1="363.8" y1="630.6" x2="363.8" y2="709.3" stroke="#66308a" stroke-width="1.25"/>
<line x1="363.8" y1="736.8" x2="363.8" y2="742.9" stroke="#66308a" stroke-width="1.25"/>
<line x1="358.6" y1="630.6" x2="369" y2="630.6" stroke="#66308a" stroke-width="1.25"/>
<line x1="358.6" y1="742.9" x2="369" y2="742.9" stroke="#66308a" stroke-width="1.25"/>
<rect x="353.9" y="709.3" width="19.8" height="27.5" fill="#ac90c0" stroke="#66308a" stroke-width="1.25"/>
<line x1="353.9" y1="727.1" x2="373.7" y2="727.1" stroke="#66308a" stroke-width="1.25"/>
<circle cx="363.8" cy="630.6" r="2.15" fill="#5a2080"/>
<circle cx="363.8" cy="695.6" r="2.15" fill="#5a2080"/>
<circle cx="369.1" cy="693.7" r="2.15" fill="#5a2080"/>
<circle cx="363.8" cy="704.7" r="2.15" fill="#5a2080"/>
<circle cx="360.8" cy="721.5" r="2.15" fill="#5a2080"/>
<circle cx="366.5" cy="721" r="2.15" fill="#5a2080"/>
<circle cx="358.5" cy="725.3" r="2.15" fill="#5a2080"/>
<circle cx="363.8" cy="727.6" r="2.15" fill="#5a2080"/>
<circle cx="369.1" cy="726.4" r="2.15" fill="#5a2080"/>
<circle cx="363.8" cy="731" r="2.15" fill="#5a2080"/>
<circle cx="358.5" cy="735.2" r="2.15" fill="#5a2080"/>
<circle cx="369.1" cy="736" r="2.15" fill="#5a2080"/>
<circle cx="358.5" cy="739" r="2.15" fill="#5a2080"/>
<circle cx="363.8" cy="739" r="2.15" fill="#5a2080"/>
<circle cx="369.1" cy="739.5" r="2.15" fill="#5a2080"/>
<circle cx="358.5" cy="742.9" r="2.15" fill="#5a2080"/>
<line x1="179" y1="749.3" x2="382.7" y2="749.3" stroke="#000" stroke-width="1.3"/>
<line x1="204.5" y1="749.3" x2="204.5" y2="753.3" stroke="#000" stroke-width="1.3"/>
<text x="204.5" y="765.7" text-anchor="middle" font-size="10.5" stroke="#000" stroke-width="0.12" >Ctrl</text>
<line x1="236.6" y1="749.3" x2="236.6" y2="753.3" stroke="#000" stroke-width="1.3"/>
<text x="236.6" y="765.7" text-anchor="middle" font-size="10.5" stroke="#000" stroke-width="0.12" >5AA</text>
<line x1="268" y1="749.3" x2="268" y2="753.3" stroke="#000" stroke-width="1.3"/>
<text x="268" y="765.7" text-anchor="middle" font-size="10.5" stroke="#000" stroke-width="0.12" >Ctrl</text>
<line x1="299.8" y1="749.3" x2="299.8" y2="753.3" stroke="#000" stroke-width="1.3"/>
<text x="299.8" y="765.7" text-anchor="middle" font-size="10.5" stroke="#000" stroke-width="0.12" >5AA</text>
<line x1="331.6" y1="749.3" x2="331.6" y2="753.3" stroke="#000" stroke-width="1.3"/>
<text x="331.6" y="765.7" text-anchor="middle" font-size="10.5" stroke="#000" stroke-width="0.12" >Ctrl</text>
<line x1="363.9" y1="749.3" x2="363.9" y2="753.3" stroke="#000" stroke-width="1.3"/>
<text x="363.9" y="765.7" text-anchor="middle" font-size="10.5" stroke="#000" stroke-width="0.12" >5AA</text>
<text x="220.55" y="777.7" text-anchor="middle" font-size="10.5" stroke="#000" stroke-width="0.12" >0 min</text>
<text x="283.9" y="777.7" text-anchor="middle" font-size="10.5" stroke="#000" stroke-width="0.12" >30 min</text>
<text x="347.75" y="777.7" text-anchor="middle" font-size="10.5" stroke="#000" stroke-width="0.12" >60 min</text>
<polyline points="268,681.8 268,627.5 299.8,627.5 299.8,666.2" fill="none" stroke="#262626" stroke-width="1.4" stroke-linejoin="round" stroke-linecap="round"/>
<polygon points="283.3,619.9 283.92,621.05 285.2,621.28 284.3,622.22 284.48,623.52 283.3,622.95 282.12,623.52 282.3,622.22 281.4,621.28 282.68,621.05" fill="#000" stroke="#000" stroke-width="0.3"/>
<polyline points="331.6,626.3 331.6,605.6 363.9,605.6 363.9,615" fill="none" stroke="#262626" stroke-width="1.4" stroke-linejoin="round" stroke-linecap="round"/>
</svg>
</body></html>
